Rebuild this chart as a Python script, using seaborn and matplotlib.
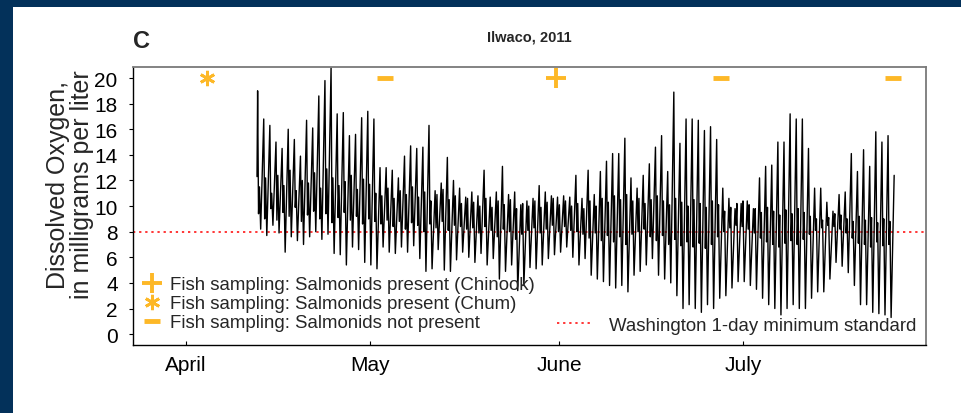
import numpy as np
import pandas as pd
import matplotlib
matplotlib.use("Agg")
import matplotlib.pyplot as plt
import seaborn as sns
from matplotlib.lines import Line2D
from matplotlib.patches import Rectangle

# ---------------- data (days counted from 1 April 2011, day 0 = April 1) -------------
month_ticks = [0, 30, 61, 91]
month_labels = ["April", "May", "June", "July"]
y_ticks = list(range(0, 21, 2))

start_day = 11.6
start_do = 12.3
first_row = 12

# afternoon daily peaks (mg/L), one per day, rows 12..116
peak_do = [19.0, 16.8, 16.3, 15.0, 14.5, 16.0, 15.2, 13.9, 16.7, 16.1,
           18.6, 19.8, 20.8, 17.2, 17.3, 15.5, 15.6, 16.9, 17.4, 16.8,
           13.0, 13.0, 12.8, 12.2, 13.9, 14.7, 14.5, 14.6, 16.3, 11.2,
           11.8, 13.8, 12.0, 11.4, 10.7, 11.1, 10.8, 12.8, 10.7, 11.1,
           13.1, 10.9, 11.1, 10.1, 10.4, 10.6, 11.6, 11.1, 10.8, 10.7,
           10.8, 10.7, 12.4, 10.6, 12.8, 10.9, 12.7, 13.5, 14.1, 14.1,
           15.3, 12.2, 11.4, 12.4, 13.3, 14.6, 15.5, 12.7, 18.9, 14.9,
           16.8, 16.8, 16.7, 15.9, 16.2, 15.2, 11.4, 10.6, 9.8, 10.2,
           10.4, 9.8, 12.2, 13.1, 13.2, 15.0, 15.0, 17.2, 16.8, 16.8,
           14.5, 11.4, 11.4, 10.3, 9.6, 10.9, 11.1, 14.1, 12.7, 14.4,
           13.1, 15.8, 15.0, 15.5, 12.4]

# night-time secondary (tidal) trough and crest, rows 12..115
band_lo = [9.4, 9.0, 9.8, 8.9, 9.5, 9.2, 9.9, 8.8, 9.3, 9.6,
           9.0, 9.4, 8.7, 9.1, 9.5, 8.9, 9.2, 8.6, 9.0, 8.8,
           8.6, 8.9, 8.4, 8.8, 8.2, 8.7, 8.5, 8.0, 8.6, 8.3,
           8.8, 8.1, 8.5, 8.4, 8.2,
           8.3, 7.9, 8.4, 8.1, 7.6, 8.2, 8.0, 7.4, 7.8, 8.1,
           8.3, 7.9, 8.2, 8.5, 8.0, 8.4, 8.1,
           8.0, 7.8, 7.5, 7.9, 7.3, 7.7, 7.2, 7.6, 7.0, 7.8,
           8.0, 8.2, 7.6, 7.3, 7.7, 7.0, 7.4, 6.9, 7.2, 6.8,
           7.1, 6.7, 7.0, 7.6,
           8.0, 8.3, 8.5, 8.4, 8.2, 7.9, 7.5, 7.2, 7.0, 6.8,
           7.1, 7.3, 7.0, 7.4,
           7.8, 8.1, 8.3, 8.5, 8.4, 8.2, 7.9, 7.5, 7.1, 7.0,
           6.8, 7.2, 6.9, 7.0]
band_hi = [11.5, 12.2, 11.0, 12.4, 11.6, 12.8, 11.2, 12.0, 11.8, 12.6,
           11.4, 12.9, 12.2, 11.6, 11.9, 12.4, 11.3, 12.1, 11.7, 11.0,
           10.8, 11.4, 10.6, 11.2, 10.9, 11.5, 10.7, 11.1, 10.4, 10.9,
           11.3, 10.5, 10.8, 10.2, 10.6,
           10.3, 10.0, 10.6, 9.9, 10.4, 10.1, 10.5, 9.8, 10.2, 10.0,
           10.4, 9.9, 10.3, 10.6, 10.1, 10.4, 10.0,
           10.2, 9.8, 10.4, 10.0, 10.6, 10.3, 10.8, 10.5, 10.9, 10.4,
           10.6, 10.2, 10.5, 10.8, 10.4, 10.1, 10.6, 10.3, 10.0, 10.5,
           10.2, 9.9, 10.4, 10.1,
           9.6, 9.9, 10.2, 10.4, 10.1, 9.8, 9.5, 9.9, 9.6, 9.3,
           9.7, 9.4, 9.8, 9.5,
           9.2, 9.0, 8.9, 9.1, 9.4, 9.3, 9.0, 8.8, 9.2, 8.9,
           9.1, 8.7, 9.0, 8.8]
# early-morning daily minimum, rows 12..115
low_do = [8.2, 7.7, 8.5, 7.9, 6.4, 7.6, 7.3, 7.0, 7.6, 8.0,
          7.4, 7.8, 6.3, 6.2, 5.4, 6.8, 6.6, 5.6, 5.4, 5.1,
          6.8, 6.4, 6.3, 6.8, 6.4, 6.9, 5.9, 4.9, 5.1, 6.6,
          5.0, 4.9, 5.8, 6.4, 6.0, 5.6, 6.3, 5.4, 5.9, 4.3,
          4.9, 5.4, 3.4, 3.8, 5.2, 5.1, 5.4, 5.9, 6.2, 6.4,
          6.8, 6.0, 5.4, 5.9, 4.6, 4.3, 4.1, 3.8, 3.6, 3.8,
          3.3, 4.6, 4.9, 5.4, 5.9, 4.6, 4.3, 4.0, 3.0, 2.0,
          2.3, 2.0, 1.7, 2.3, 2.0, 2.8, 3.0, 3.6, 4.1, 4.1,
          3.8, 3.5, 2.8, 2.3, 2.0, 1.5, 2.0, 2.3, 2.0, 2.0,
          2.8, 3.3, 3.3, 4.3, 5.6, 5.3, 4.8, 3.8, 2.3, 2.3,
          1.7, 1.6, 1.5, 1.3]

standard_do = 8.0
standard_label = "Washington 1-day minimum standard"

sampling_days = [3.4, 32.5, 60.5, 87.4, 115.5]
sampling_kind = ["chum", "absent", "chinook", "absent", "absent"]
sampling_level = 20.0
kind_labels = {
    "chinook": "Fish sampling: Salmonids present (Chinook)",
    "chum": "Fish sampling: Salmonids present (Chum)",
    "absent": "Fish sampling: Salmonids not present",
}

# ---------------- build the series table ----------------
times = [start_day]
values = [start_do]
rows = np.arange(first_row, first_row + len(low_do))
for i, r in enumerate(rows):
    times += [r - 0.3, r - 0.15, r + 0.0, r + 0.2]
    values += [peak_do[i], band_lo[i], band_hi[i], low_do[i]]
times.append(rows[-1] + 0.7)
values.append(peak_do[-1])
df = pd.DataFrame({"day": times, "do": values})

samp = pd.DataFrame({"day": sampling_days, "kind": sampling_kind,
                     "do": [sampling_level] * len(sampling_days)})

# ---------------- style ----------------
sns.set_theme(style="white")
plt.rcParams["font.family"] = ["Liberation Sans", "DejaVu Sans"]

W, H = 962, 414
fig = plt.figure(figsize=(W / 100, H / 100), dpi=100)
fig.patch.set_facecolor("#03315A")
fig.add_artist(Rectangle((13 / W, 0), 1, 1 - 8 / H, transform=fig.transFigure,
                         facecolor="white", edgecolor="none", zorder=-1))

ax = fig.add_axes([133 / W, 1 - 346 / H, (926 - 133) / W, (346 - 68) / H])
ax.set_facecolor("white")

sns.lineplot(data=df, x="day", y="do", ax=ax, color="black", linewidth=1.0,
             estimator=None, sort=False, legend=False)
ax.axhline(standard_do, color="red", linewidth=1.1, linestyle=(0, (1.5, 2.5)),
           zorder=1)

orange = "#FDB827"
mstyle = {
    "chinook": dict(marker="+", markersize=15, markeredgewidth=2.8),
    "chum": dict(marker=(6, 2, 0), markersize=11, markeredgewidth=2.0),
    "absent": dict(marker="_", markersize=11, markeredgewidth=3.5),
}
for kind in ["chinook", "chum", "absent"]:
    sub = samp[samp["kind"] == kind]
    ax.plot(sub["day"], sub["do"], linestyle="none", color=orange,
            markeredgecolor=orange, **mstyle[kind])

ax.set_xlim(-8.66, 120.9)
ax.set_ylim(-0.85, 20.86)
ax.set_xticks(month_ticks)
ax.set_xticklabels(month_labels)
ax.set_yticks(y_ticks)
ax.set_xlabel("")
ax.set_ylabel("")
ax.tick_params(axis="x", direction="in", length=3, width=0.8, pad=7,
               labelsize=15, colors="black", bottom=True)
ax.tick_params(axis="y", direction="out", length=3, width=0.8, pad=8,
               labelsize=15, colors="black", left=True)
for side in ["left", "bottom"]:
    ax.spines[side].set_color("black")
    ax.spines[side].set_linewidth(1.0)
for side in ["top", "right"]:
    ax.spines[side].set_color("#7a7a7a")
    ax.spines[side].set_linewidth(1.3)

# legends
h1 = [Line2D([], [], linestyle="none", color=orange, markeredgecolor=orange,
             **mstyle[k]) for k in ["chinook", "chum", "absent"]]
leg1 = ax.legend(h1, [kind_labels[k] for k in ["chinook", "chum", "absent"]],
                 loc="lower left", bbox_to_anchor=(0.005, 0.03), frameon=False,
                 fontsize=13.4, handlelength=1.0, handletextpad=0.45,
                 labelspacing=0.1, borderpad=0.3, borderaxespad=0.0)
ax.add_artist(leg1)
h2 = [Line2D([], [], color="red", linewidth=1.1, linestyle=(0, (1.5, 2.5)))]
ax.legend(h2, [standard_label], loc="lower right", bbox_to_anchor=(0.995, 0.02),
          frameon=False, fontsize=13.4, handlelength=1.9, handletextpad=0.9,
          borderpad=0.3, borderaxespad=0.0)

# titles and y label
fig.text(133 / W, 1 - 41 / H, "C", fontsize=17, fontweight="bold",
         ha="left", va="center")
fig.text(529 / W, 1 - 38 / H, "Ilwaco, 2011", fontsize=10.5, fontweight="bold",
         ha="center", va="center")
fig.text(70 / W, 1 - 185 / H, "Dissolved Oxygen,\nin milligrams per liter",
         rotation=90, ha="center", va="center", fontsize=18, linespacing=1.05,
         multialignment="center")

fig.savefig("out.png", dpi=100, facecolor=fig.get_facecolor())
